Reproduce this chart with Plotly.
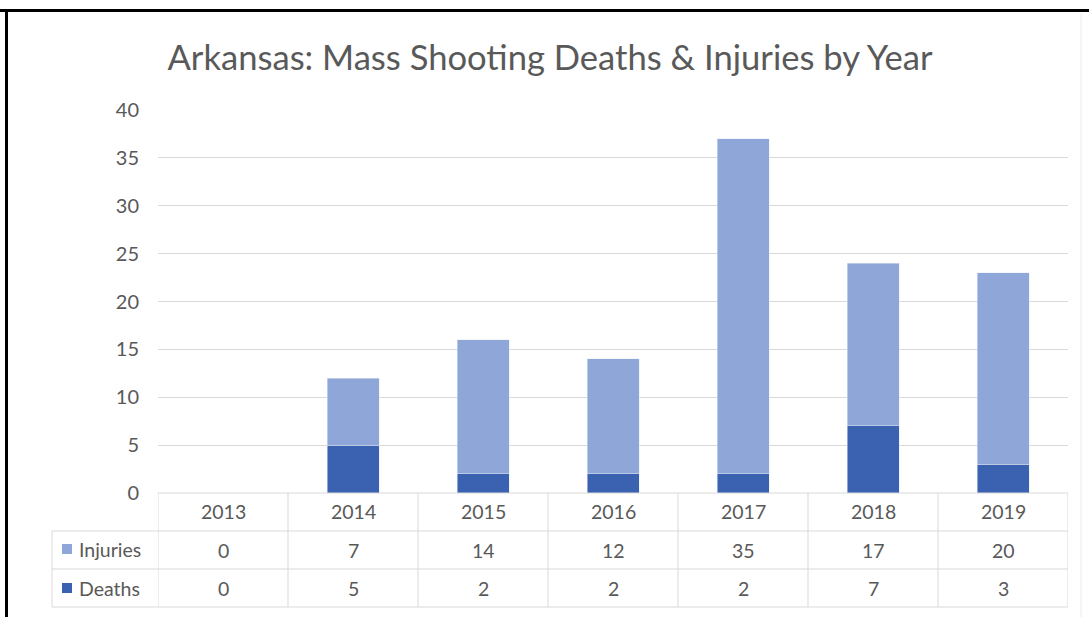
import plotly.graph_objects as go

years = ["2013", "2014", "2015", "2016", "2017", "2018", "2019"]
injuries = [0, 7, 14, 12, 35, 17, 20]
deaths = [0, 5, 2, 2, 2, 7, 3]
title_text = "Arkansas: Mass Shooting Deaths & Injuries by Year"
y_ticks = [0, 5, 10, 15, 20, 25, 30, 35, 40]

C_INJ = "#8FA6D8"
C_DEA = "#3B62B0"
TXT = "#595959"
GRID = "#D9D9D9"
FONT = "Lato"

W, H = 1089, 617
L, R, T, B = 158, 21, 110, 124
PW, PH = W - L - R, H - T - B


def px_x(px):
    return (px - L) / PW


def px_y(py):
    return (H - B - py) / PH


fig = go.Figure()
fig.add_trace(go.Bar(x=years, y=deaths, name="Deaths", marker_color=C_DEA))
fig.add_trace(go.Bar(x=years, y=injuries, name="Injuries", marker_color=C_INJ))

shapes = []
annotations = []
n = len(years)
for py in [531, 569, 607]:
    shapes.append(dict(type="line", xref="paper", yref="paper",
                       x0=px_x(52), x1=1, y0=px_y(py), y1=px_y(py),
                       line=dict(color=GRID, width=1)))
shapes.append(dict(type="line", xref="paper", yref="paper",
                   x0=0, x1=1, y0=0, y1=0, line=dict(color=GRID, width=1)))
shapes.append(dict(type="line", xref="paper", yref="paper",
                   x0=px_x(52), x1=px_x(52), y0=px_y(531), y1=px_y(607),
                   line=dict(color=GRID, width=1)))
for i in range(n + 1):
    shapes.append(dict(type="line", xref="x", yref="paper",
                       x0=i - 0.5, x1=i - 0.5, y0=0, y1=px_y(607),
                       line=dict(color=GRID, width=1)))

tf = dict(family=FONT, size=19.5, color=TXT)
for i, yr in enumerate(years):
    for text, cy in [(yr, 512), (str(injuries[i]), 550), (str(deaths[i]), 588)]:
        annotations.append(dict(x=i, xref="x", y=px_y(cy), yref="paper",
                                text=text, showarrow=False,
                                xanchor="center", yanchor="middle", font=tf))

for name, col, cy in [("Injuries", C_INJ, 549), ("Deaths", C_DEA, 588)]:
    shapes.append(dict(type="rect", xref="paper", yref="paper",
                       x0=px_x(62), x1=px_x(72), y0=px_y(cy - 5), y1=px_y(cy + 5),
                       fillcolor=col, line=dict(width=0)))
    annotations.append(dict(x=px_x(77), xref="paper", y=px_y(cy), yref="paper",
                            text=name, showarrow=False, xanchor="left",
                            yanchor="middle", font=tf))

# outer frame
shapes.append(dict(type="line", xref="paper", yref="paper",
                   x0=px_x(0), x1=px_x(1100), y0=px_y(10.5), y1=px_y(10.5),
                   line=dict(color="black", width=3)))
shapes.append(dict(type="line", xref="paper", yref="paper",
                   x0=px_x(6.5), x1=px_x(6.5), y0=px_y(9), y1=px_y(630),
                   line=dict(color="black", width=3)))
shapes.append(dict(type="line", xref="paper", yref="paper",
                   x0=px_x(1081), x1=px_x(1081), y0=px_y(13), y1=px_y(630),
                   line=dict(color="#EBEBEB", width=1)))

fig.update_layout(
    width=W, height=H,
    margin=dict(l=L, r=R, t=T, b=B),
    paper_bgcolor="white", plot_bgcolor="white",
    barmode="stack", bargap=0.6,
    showlegend=False,
    title=dict(text=title_text, x=550 / W, xanchor="center", xref="container",
               y=1 - 58 / H, yanchor="middle", yref="container",
               font=dict(family=FONT, size=34.6, color=TXT)),
    xaxis=dict(type="category", range=[-0.5, n - 0.5], showticklabels=False,
               showgrid=False, zeroline=False, showline=False, ticks=""),
    yaxis=dict(range=[0, 40], tickvals=y_ticks, showgrid=True, gridcolor=GRID,
               gridwidth=1, zeroline=False, showline=False,
               tickfont=dict(family=FONT, size=20, color=TXT),
               ticklabelstandoff=18),
    shapes=shapes,
    annotations=annotations,
)

fig.write_html("out.html", config={"displayModeBar": False},
               post_script="document.body.style.margin='0';document.body.style.overflow='hidden';")
